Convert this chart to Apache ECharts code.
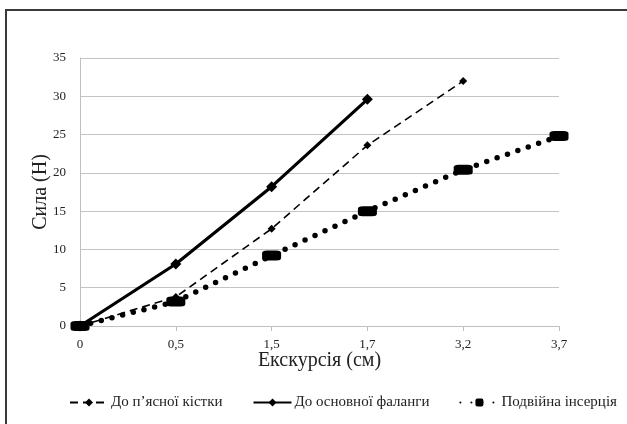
<!DOCTYPE html>
<html><head><meta charset="utf-8">
<script src="https://cdn.jsdelivr.net/npm/echarts@6/dist/echarts.min.js"></script>
<style>html,body{margin:0;padding:0;background:#fff}#c{width:627px;height:424px}</style>
</head><body><div id="c"></div>
<script>
const categories = ['0', '0,5', '1,5', '1,7', '3,2', '3,7'];
const metacarpal = [0, 3.8, 12.7, 23.6, 32.0];
const mainPhalanx = [0, 8.1, 18.2, 29.6];
const doubleInsertion = [0, 3.2, 9.2, 15.0, 20.4, 24.8];
const seriesNames = ['До п’ясної кістки', 'До основної фаланги', 'Подвійна інсерція'];
const yTicks = {min: 0, max: 35, interval: 5};

const font = 'Liberation Serif, Times New Roman, serif';
const chart = echarts.init(document.getElementById('c'), null, {renderer: 'canvas'});
chart.setOption({
  animation: false,
  backgroundColor: '#fff',
  textStyle: {fontFamily: font},
  graphic: [{
    type: 'rect', shape: {x: 6, y: 10, width: 700, height: 500},
    style: {fill: 'none', stroke: '#3a3a3a', lineWidth: 2}, silent: true
  }],
  grid: {left: 80, right: 68, top: 58, bottom: 98, containLabel: false},
  xAxis: {
    type: 'category', data: categories, boundaryGap: false,
    name: 'Екскурсія (см)', nameLocation: 'middle', nameGap: 25, nameMoveOverlap: false,
    nameTextStyle: {fontSize: 20, color: '#222', fontFamily: font, verticalAlign: 'top'},
    axisLine: {lineStyle: {color: '#bfbfbf', width: 1}},
    axisTick: {show: true, length: 5, lineStyle: {color: '#bfbfbf'}},
    axisLabel: {fontSize: 13, color: '#222', fontFamily: font, margin: 12},
    splitLine: {show: false}
  },
  yAxis: {
    type: 'value', min: yTicks.min, max: yTicks.max, interval: yTicks.interval,
    name: 'Сила (Н)', nameLocation: 'middle', nameGap: 29, nameRotate: 90, nameMoveOverlap: false,
    nameTextStyle: {fontSize: 20, color: '#222', fontFamily: font},
    axisLine: {show: true, lineStyle: {color: '#bfbfbf'}},
    axisTick: {show: false},
    axisLabel: {fontSize: 13, color: '#222', fontFamily: font, margin: 14},
    splitLine: {lineStyle: {color: '#c4c4c4', width: 1}}
  },
  legend: {
    bottom: 9, left: 64, itemGap: 30, itemWidth: 38, itemHeight: 10,
    textStyle: {fontSize: 15, color: '#222', fontFamily: font, padding: [0, 0, 0, -2]},
    data: seriesNames
  },
  series: [
    {
      name: seriesNames[0], type: 'line', data: metacarpal,
      symbol: 'diamond', symbolSize: 8, showSymbol: true,
      lineStyle: {color: '#000', width: 1.6, type: [8, 5]},
      itemStyle: {color: '#000'}, z: 3
    },
    {
      name: seriesNames[1], type: 'line', data: mainPhalanx,
      symbol: 'diamond', symbolSize: 11,
      lineStyle: {color: '#000', width: 3.2, type: 'solid'},
      itemStyle: {color: '#000'}, z: 4
    },
    {
      name: seriesNames[2], type: 'line', data: doubleInsertion,
      symbol: 'roundRect', symbolSize: [19, 10],
      lineStyle: {color: '#000', width: 5.5, type: [0, 11], cap: 'round'},
      itemStyle: {color: '#000'}, z: 2
    }
  ]
});
</script></body></html>
